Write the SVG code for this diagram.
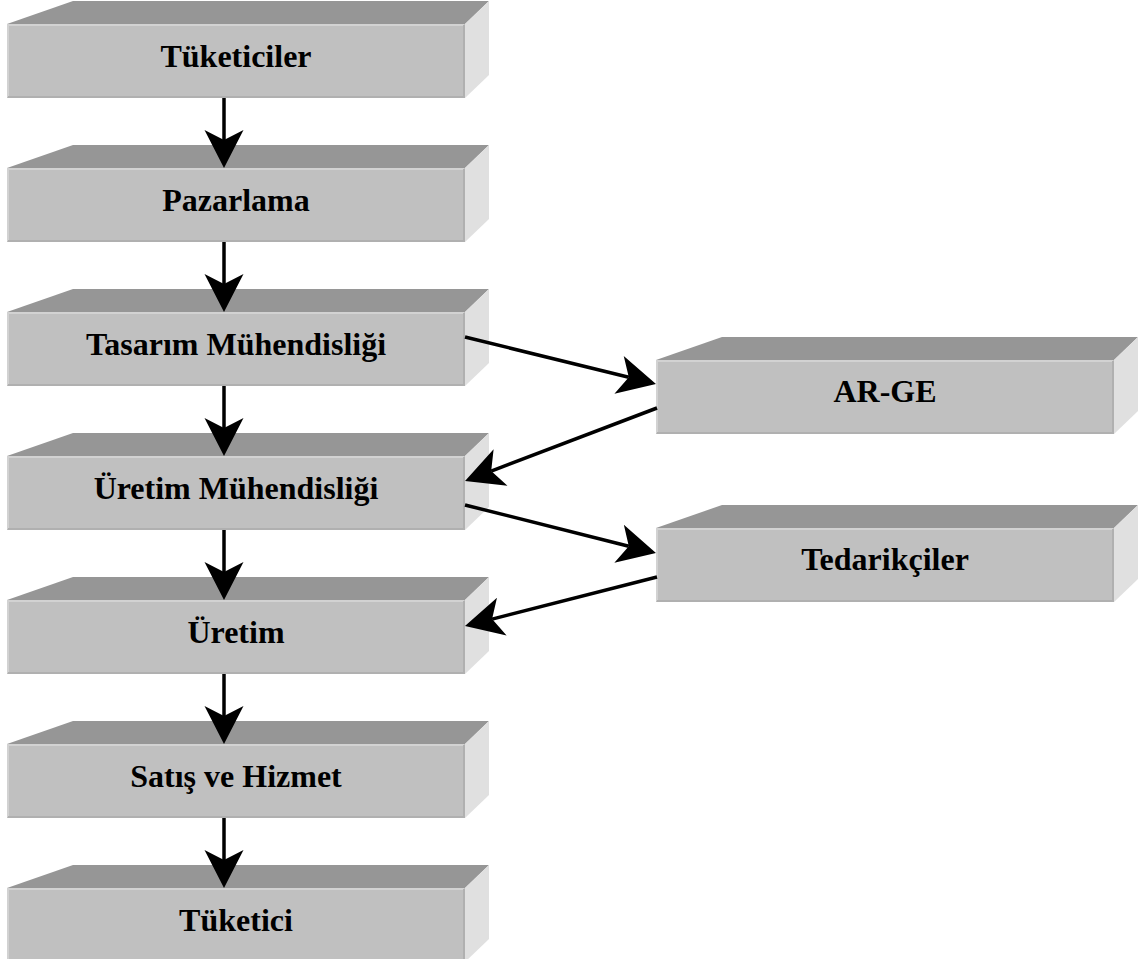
<svg xmlns="http://www.w3.org/2000/svg" width="1148" height="959" viewBox="0 0 1148 959">
  <style>
    .front { fill: #c0c0c0; }
    .top { fill: #969696; }
    .side { fill: #e0e0e0; }
    .hl { stroke: #d2d2d2; stroke-width: 2; fill: none; }
    .sh { stroke: #b0b0b0; stroke-width: 2; fill: none; }
    .label { font-family: "Liberation Serif", "Times New Roman", serif; font-weight: bold; font-size: 32px; fill: #000; text-anchor: middle; }
    .conn { stroke: #000; stroke-width: 3.5; fill: none; marker-end: url(#head); }
  </style>
  <defs>
    <!-- barbed arrowhead; origin sits at the notch, tip 28px ahead -->
    <marker id="head" markerUnits="userSpaceOnUse" viewBox="-12 -21 42 42" markerWidth="42" markerHeight="42" refX="0" refY="0" orient="auto">
      <path d="M28,0 L-10,-19.5 L0,0 L-10,19.5 Z" fill="#000"/>
    </marker>
    <!-- extruded slab, front face at (0,0) size 458x74 -->
    <g id="slab">
      <polygon class="top" points="0,0 66,-23 482,-23 458,0"/>
      <polygon class="side" points="458,0 482,-23 482,51 458,74"/>
      <rect class="front" x="0" y="0" width="458" height="74"/>
      <path class="hl" d="M1,73 V1 H457"/>
      <path class="sh" d="M1,73 H457 V1"/>
    </g>
  </defs>

  <g id="n-tuketiciler">
    <use href="#slab" x="7" y="24"/>
    <text class="label" x="236" y="67">Tüketiciler</text>
  </g>
  <g id="n-pazarlama">
    <use href="#slab" x="7" y="168"/>
    <text class="label" x="236" y="211">Pazarlama</text>
  </g>
  <g id="n-tasarim">
    <use href="#slab" x="7" y="312"/>
    <text class="label" x="236" y="355">Tasarım Mühendisliği</text>
  </g>
  <g id="n-uretim-muh">
    <use href="#slab" x="7" y="456"/>
    <text class="label" x="236" y="499">Üretim Mühendisliği</text>
  </g>
  <g id="n-uretim">
    <use href="#slab" x="7" y="600"/>
    <text class="label" x="236" y="643">Üretim</text>
  </g>
  <g id="n-satis">
    <use href="#slab" x="7" y="744"/>
    <text class="label" x="236" y="787">Satış ve Hizmet</text>
  </g>
  <g id="n-tuketici">
    <use href="#slab" x="7" y="888"/>
    <text class="label" x="236" y="931">Tüketici</text>
  </g>
  <g id="n-arge">
    <use href="#slab" x="656" y="360"/>
    <text class="label" x="885" y="402">AR-GE</text>
  </g>
  <g id="n-tedarikciler">
    <use href="#slab" x="656" y="528"/>
    <text class="label" x="885" y="570">Tedarikçiler</text>
  </g>

  <g id="connectors">
    <line class="conn" x1="224" y1="98" x2="224" y2="140"/>
    <line class="conn" x1="224" y1="242" x2="224" y2="284"/>
    <line class="conn" x1="224" y1="386" x2="224" y2="428"/>
    <line class="conn" x1="224" y1="530" x2="224" y2="572"/>
    <line class="conn" x1="224" y1="674" x2="224" y2="716"/>
    <line class="conn" x1="224" y1="818" x2="224" y2="860"/>
    <line class="conn" x1="465" y1="337" x2="628.8" y2="377.3"/>
    <line class="conn" x1="657" y1="408" x2="491.2" y2="471.1"/>
    <line class="conn" x1="465" y1="505" x2="628.8" y2="546.2"/>
    <line class="conn" x1="657" y1="577" x2="492.1" y2="619.1"/>
  </g>
</svg>
